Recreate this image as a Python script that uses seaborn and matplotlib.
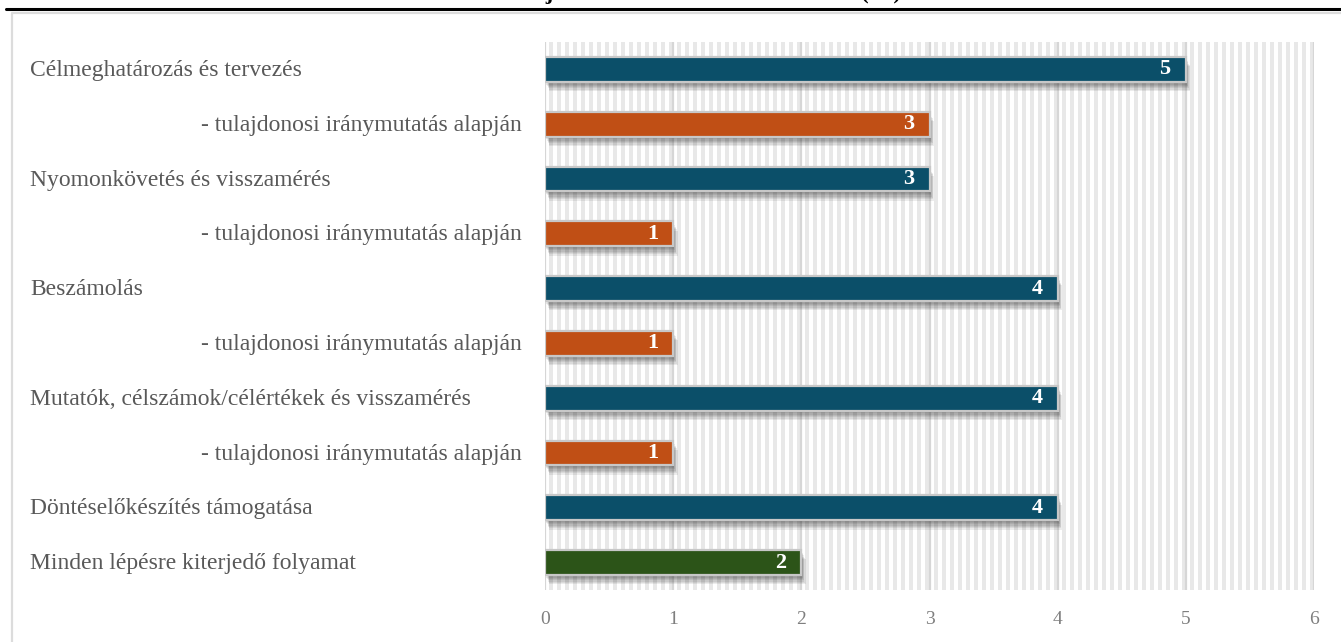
import numpy as np
import pandas as pd
import matplotlib
matplotlib.use("Agg")
import matplotlib.pyplot as plt
import matplotlib.patheffects as pe
from matplotlib.lines import Line2D
from matplotlib.colors import ListedColormap
import seaborn as sns

# Chart data
labels = [
    "Célmeghatározás és tervezés",
    "- tulajdonosi iránymutatás alapján",
    "Nyomonkövetés és visszamérés",
    "- tulajdonosi iránymutatás alapján",
    "Beszámolás",
    "- tulajdonosi iránymutatás alapján",
    "Mutatók, célszámok/célértékek és visszamérés",
    "- tulajdonosi iránymutatás alapján",
    "Döntéselőkészítés támogatása",
    "Minden lépésre kiterjedő folyamat",
]
values = [5, 3, 3, 1, 4, 1, 4, 1, 4, 2]
kinds = ["fő", "tulajdonosi", "fő", "tulajdonosi", "fő", "tulajdonosi",
         "fő", "tulajdonosi", "fő", "teljes"]
xticks = [0, 1, 2, 3, 4, 5, 6]
title = "Elemzések jellemzői az elemzett területeken (db)"

palette = {"fő": "#0b4f69", "tulajdonosi": "#c04f15", "teljes": "#2c5418"}

df = pd.DataFrame({"sor": range(len(labels)), "érték": values, "típus": kinds})

sns.set_theme(style="white")
plt.rcParams["font.family"] = ["Liberation Serif", "DejaVu Serif"]

W, H = 1341, 642
fig = plt.figure(figsize=(W / 100, H / 100), dpi=100)
ax = fig.add_axes([545 / W, 1 - 590 / H, (1314 - 545) / W, (590 - 42) / H])

# vertical-stripe pattern fill of the plot area (16 stripes per unit)
n_stripes = 16 * (xticks[-1] - xticks[0])
pattern = np.tile([0, 0, 0, 0, 1, 1, 1, 1], n_stripes)[np.newaxis, :]
ax.imshow(pattern, cmap=ListedColormap(["#ffffff", "#e8e8e8"]),
          extent=(xticks[0], xticks[-1], len(labels) - 0.5, -0.5),
          aspect="auto", interpolation="nearest", zorder=0)
for x in xticks:
    ax.axvline(x, color="#d6d6d6", lw=1.6, zorder=0.5)

sns.barplot(data=df, x="érték", y="sor", hue="típus", palette=palette,
            orient="h", dodge=False, width=0.455, legend=False, saturation=1,
            edgecolor="#c8c8c8", linewidth=1.6, zorder=2, ax=ax)

# soft drop shadow under each bar
shadow = [pe.SimplePatchShadow(offset=(0.45 * k, -0.95 * k), shadow_rgbFace="black",
                               alpha=0.075) for k in range(1, 8)]
for p in ax.patches:
    p.set_path_effects(shadow + [pe.Normal()])

ax.set_xlim(0, 6)
ax.set_ylim(len(labels) - 0.5, -0.5)
ax.set_xticks(xticks)
ax.set_xticklabels([str(t) for t in xticks], color="#7f7f7f", fontsize=14)
ax.tick_params(axis="x", length=0, pad=15)
ax.set_yticks([])
ax.set_xlabel("")
ax.set_ylabel("")
for s in ax.spines.values():
    s.set_visible(False)

# value labels inside the bar ends
for i, v in enumerate(values):
    ax.annotate(str(v), xy=(v, i), xytext=(-15, 0), textcoords="offset points",
                ha="center", va="center", color="white", fontsize=16,
                fontweight="bold", zorder=5)

# category labels
to_fig = ax.transData + fig.transFigure.inverted()
for i, lab in enumerate(labels):
    yfig = to_fig.transform((0, i + 0.02))[1]
    if lab.startswith("-"):
        fig.text(522 / W, yfig, lab, ha="right", va="center", fontsize=17,
                 color="#595959")
    else:
        fig.text(30 / W, yfig, lab, ha="left", va="center", fontsize=17,
                 color="#595959")

# frame lines and title
fig.add_artist(Line2D([6 / W, 1], [1 - 8.5 / H, 1 - 8.5 / H], color="black",
                      lw=2.2, transform=fig.transFigure))
fig.add_artist(Line2D([11.5 / W, 11.5 / W, 1], [0, 1 - 13 / H, 1 - 13 / H],
                      color="#dcdcdc", lw=1.6, transform=fig.transFigure))
fig.text(0.5, 1 + 1.5 / H, title, ha="center", va="baseline", fontsize=16,
         fontweight="bold", color="black")

fig.savefig("out.png", dpi=100)
